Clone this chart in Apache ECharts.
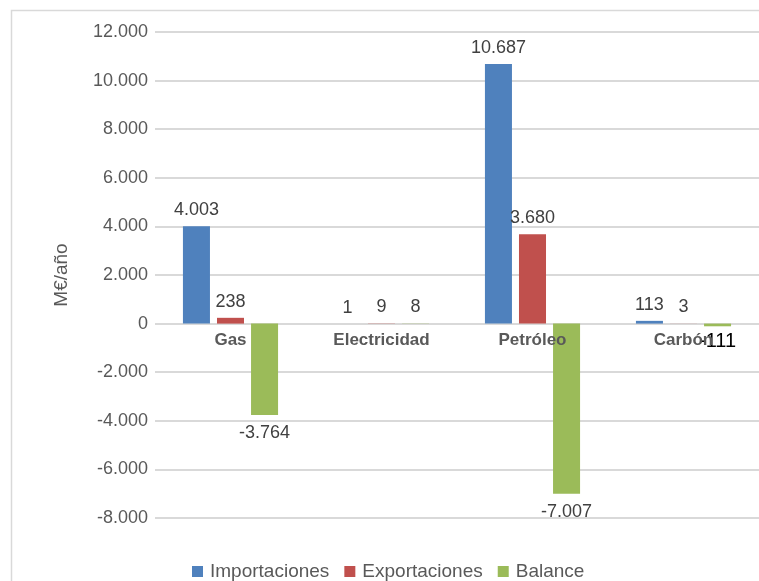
<!DOCTYPE html>
<html><head><meta charset="utf-8">
<script src="https://cdn.jsdelivr.net/npm/echarts@6/dist/echarts.min.js"></script>
<style>html,body{margin:0;padding:0;background:#fff}#c{width:759px;height:581px}</style>
</head><body><div id="c"></div>
<script>
var categories = ['Gas', 'Electricidad', 'Petróleo', 'Carbón'];
var importaciones = [4003, 1, 10687, 113];
var exportaciones = [238, 9, 3680, 3];
var balance = [-3764, 8, -7007, -111];
var seriesNames = ['Importaciones', 'Exportaciones', 'Balance'];
var colors = ['#4f81bd', '#c0504d', '#9bbb59'];

function fmt(v) {
  var s = Math.abs(v).toString().replace(/\B(?=(\d{3})+(?!\d))/g, '.');
  return (v < 0 ? '-' : '') + s;
}
var FONT = 'Liberation Sans';
function mk(arr, special) {
  return arr.map(function (v, i) {
    var lab = { position: v < 0 ? 'bottom' : 'top', distance: v < 0 ? 9 : 7 };
    if (special && special[i]) Object.assign(lab, special[i]);
    return { value: v, label: lab };
  });
}
var chart = echarts.init(document.getElementById('c'));
var lbl = { show: true, color: '#404040', fontSize: 18, fontFamily: FONT,
  formatter: function (p) { return fmt(p.value); } };
chart.setOption({
  animation: false,
  color: colors,
  graphic: [{ type: 'rect', shape: { x: 11.5, y: 10.5, width: 800, height: 600 },
    style: { fill: 'none', stroke: '#d9d9d9', lineWidth: 1.5 }, z: -1 }],
  grid: { left: 155, right: 0, top: 32, bottom: 63 },
  legend: { left: 187, top: 557, itemWidth: 11, itemHeight: 11, itemGap: 15, icon: 'rect',
    textStyle: { color: '#595959', fontSize: 19, fontFamily: FONT, padding: [0, 0, 0, 2] }, data: seriesNames },
  xAxis: { type: 'category', data: categories, offset: -195, z: 4,
    axisLine: { show: false, onZero: false },
    axisTick: { show: false },
    axisLabel: { color: '#595959', fontSize: 17, fontWeight: 'bold', fontFamily: FONT, margin: 9 } },
  yAxis: { type: 'value', min: -8000, max: 12000, interval: 2000,
    name: 'M€/año', nameLocation: 'middle', nameGap: 84,
    nameTextStyle: { color: '#595959', fontSize: 19, fontFamily: FONT },
    axisLine: { show: false }, axisTick: { show: false },
    axisLabel: { color: '#595959', fontSize: 18, fontFamily: FONT, margin: 7, formatter: fmt },
    splitLine: { lineStyle: { color: '#d9d9d9', width: 2 } } },
  series: [
    { name: seriesNames[0], type: 'bar', data: mk(importaciones), barGap: '26%', barCategoryGap: '37%', label: lbl },
    { name: seriesNames[1], type: 'bar', data: mk(exportaciones), label: lbl },
    { name: seriesNames[2], type: 'bar', data: mk(balance, [null, null, null, { color: '#000', fontSize: 20, distance: 5 }]), label: lbl }
  ]
});
</script></body></html>
